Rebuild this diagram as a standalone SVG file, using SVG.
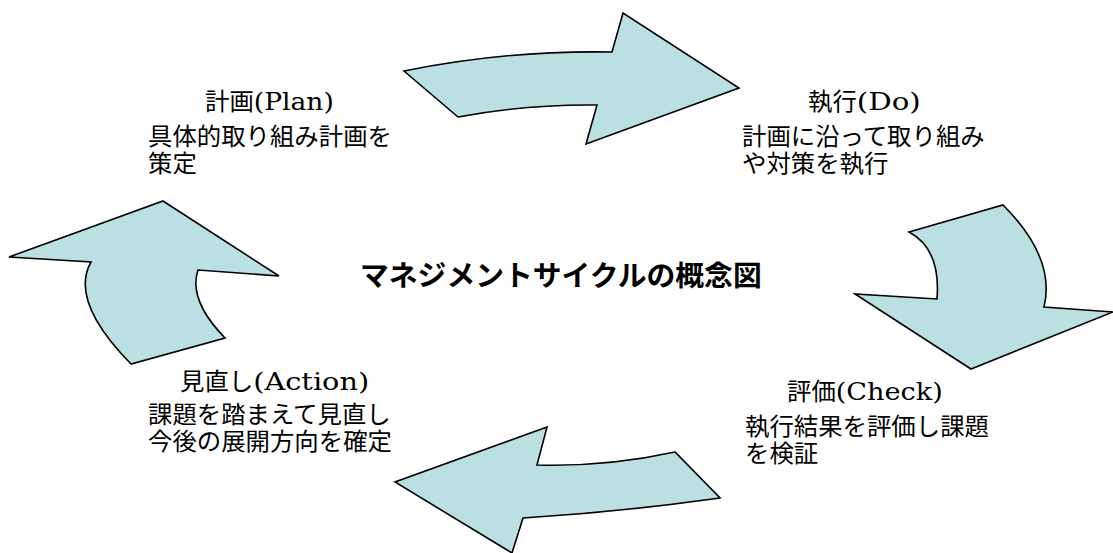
<svg xmlns="http://www.w3.org/2000/svg" width="1113" height="553" viewBox="0 0 1113 553">
<style>
.arrow{fill:#BBE0E3;stroke:#000;stroke-width:1.6;stroke-linejoin:miter}
.jp{font-family:"Noto Sans CJK JP","Noto Sans CJK SC",sans-serif;font-size:24.4px;fill:#000}
.lat{font-family:"DejaVu Serif","Liberation Serif",serif;font-size:25px}
.title{font-family:"Noto Sans CJK JP","Noto Sans CJK SC",sans-serif;font-size:28.8px;font-weight:bold;fill:#000}
</style>
<rect width="1113" height="553" fill="#fff"/>
<g id="connectors">
<path id="arrow-plan-do" class="arrow" d="M404,71 Q508,50 612,52 L623,13 L739,88 L586,144 L597,105 Q527,104 458,117 Z"/>
<path id="arrow-do-check" class="arrow" d="M909,232 L1003,205 Q1056,258 1044,307 L1113,312 L971,369 L855,294 L937,299 Q941,249 909,232 Z"/>
<path id="arrow-check-action" class="arrow" d="M547,427 L537,465 Q606,467 675,452 L720,498 Q621,512 523,518 L512,553 L395,482 Z"/>
<path id="arrow-action-plan" class="arrow" d="M163,201 L279,276 L198,270 Q188,300 225,338 L131,364 Q69,301 91,262 L9,257 Z"/>
</g>
<g id="node-plan">
<text class="jp" x="205" y="110">計画<tspan class="lat" textLength="80" lengthAdjust="spacingAndGlyphs">(Plan)</tspan></text>
<text class="jp" x="148" y="145">具体的取り組み計画を</text>
<text class="jp" x="148" y="171.5">策定</text>
</g>
<g id="node-do">
<text class="jp" x="808" y="110">執行<tspan class="lat" textLength="64" lengthAdjust="spacingAndGlyphs">(Do)</tspan></text>
<text class="jp" x="742" y="145">計画に沿って取り組み</text>
<text class="jp" x="742" y="172">や対策を執行</text>
</g>
<g id="node-check">
<text class="jp" x="787" y="400">評価<tspan class="lat" textLength="107" lengthAdjust="spacingAndGlyphs">(Check)</tspan></text>
<text class="jp" x="745" y="435">執行結果を評価し課題</text>
<text class="jp" x="745" y="462">を検証</text>
</g>
<g id="node-action">
<text class="jp" x="180" y="390">見直し<tspan class="lat" textLength="116" lengthAdjust="spacingAndGlyphs">(Action)</tspan></text>
<text class="jp" x="148" y="423">課題を踏まえて見直し</text>
<text class="jp" x="148" y="450">今後の展開方向を確定</text>
</g>
<g id="node-title">
<text class="title" x="360" y="286">マネジメントサイクルの概念図</text>
</g>
</svg>
